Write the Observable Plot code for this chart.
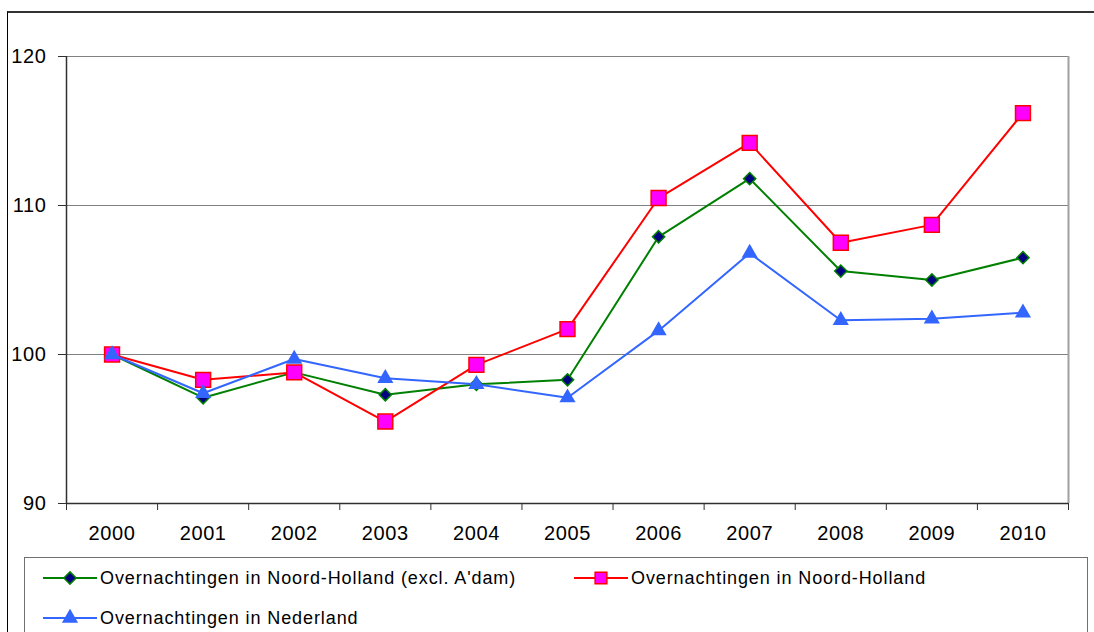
<!DOCTYPE html>
<html>
<head>
<meta charset="utf-8">
<script src="https://cdn.jsdelivr.net/npm/d3@7"></script>
<script src="https://cdn.jsdelivr.net/npm/@observablehq/plot@0.6"></script>
<style>
  html, body { margin: 0; padding: 0; background: #fff; overflow: hidden; }
  body { position: relative; width: 1094px; height: 632px; font-family: "Liberation Sans", Arial, sans-serif; }
  #frame { position: absolute; left: 7px; top: 11px; width: 1087px; height: 621px; border-left: 1px solid #000; border-top: 2px solid #333; box-sizing: border-box; }
  #chart { position: absolute; left: 0; top: 0; }
  #chart svg text { letter-spacing: 0.6px; }
  #legend { position: absolute; left: 24px; top: 557px; width: 1064px; height: 80px; border: 1px solid #707070; border-bottom: none; background: #fff; box-sizing: border-box; }
  .item { position: absolute; display: flex; align-items: center; font-size: 18px; letter-spacing: 0.9px; color: #000; white-space: nowrap; }
  .item svg { display: block; margin-right: 3px; }
</style>
</head>
<body>
<div id="frame"></div>
<div id="chart"></div>
<div id="legend"></div>
<script>
const years = [2000, 2001, 2002, 2003, 2004, 2005, 2006, 2007, 2008, 2009, 2010];
const exclAdam = [100, 97.1, 98.8, 97.3, 98.0, 98.3, 107.9, 111.8, 105.6, 105.0, 106.5];
const noordHolland = [100, 98.3, 98.8, 95.5, 99.3, 101.7, 110.5, 114.2, 107.5, 108.7, 116.2];
const nederland = [100, 97.4, 99.7, 98.4, 98.0, 97.1, 101.6, 106.8, 102.3, 102.4, 102.8];
const yTicks = [90, 100, 110, 120];
const gridValues = [100, 110, 120];
const seriesNames = [
  "Overnachtingen in Noord-Holland (excl. A'dam)",
  "Overnachtingen in Noord-Holland",
  "Overnachtingen in Nederland"
];

const rows = (vals) => years.map((yr, i) => ({year: yr, value: vals[i]}));
const dGreen = rows(exclAdam);
const dRed = rows(noordHolland);
const dBlue = rows(nederland);
const edges = [years[0] - 0.5, ...years.map(y => y + 0.5)];
const x0 = years[0] - 0.5, x1 = years[years.length - 1] + 0.5;

const styles = {
  green: {line: "#008000", fill: "#000080", stroke: "#008000", symbol: "diamond2", r: 5.5},
  red: {line: "#FF0000", fill: "#FF00FF", stroke: "#FF0000", symbol: "square", r: 8.4},
  blue: {line: "#3366FF", fill: "#3366FF", stroke: "none", symbol: "triangle", r: 6}
};

const chart = Plot.plot({
  width: 1094,
  height: 550,
  marginLeft: 66,
  marginRight: 26,
  marginTop: 56,
  marginBottom: 47,
  x: {type: "linear", domain: [x0, x1]},
  y: {domain: [90, 120]},
  style: {fontFamily: "'Liberation Sans', Arial, sans-serif", fontSize: "20px", background: "transparent", color: "#000"},
  marks: [
    Plot.ruleY(gridValues, {stroke: "#808080", strokeWidth: 1}),
    Plot.ruleX([x1], {stroke: "#a0a0a0", strokeWidth: 2}),
    Plot.axisY({ticks: yTicks, tickSize: 8, tickPadding: 12, stroke: "#303030", fill: "#000", label: null, tickFormat: d => String(d)}),
    Plot.ruleX([x0], {stroke: "#303030", strokeWidth: 1.5}),
    Plot.ruleY([90], {stroke: "#303030", strokeWidth: 1.5}),
    Plot.axisX({ticks: edges, tickSize: 7, tickFormat: () => "", stroke: "#303030", label: null}),
    Plot.axisX({ticks: years, tickSize: 0, tickPadding: 22, tickFormat: d => String(d), fill: "#000", label: null}),
    Plot.line(dGreen, {x: "year", y: "value", stroke: styles.green.line, strokeWidth: 2}),
    Plot.dot(dGreen, {x: "year", y: "value", symbol: styles.green.symbol, r: styles.green.r, fill: styles.green.fill, stroke: styles.green.stroke, strokeWidth: 1.5}),
    Plot.line(dRed, {x: "year", y: "value", stroke: styles.red.line, strokeWidth: 2}),
    Plot.dot(dRed, {x: "year", y: "value", symbol: styles.red.symbol, r: styles.red.r, fill: styles.red.fill, stroke: styles.red.stroke, strokeWidth: 1.5}),
    Plot.line(dBlue, {x: "year", y: "value", stroke: styles.blue.line, strokeWidth: 2}),
    Plot.dot(dBlue, {x: "year", y: "value", symbol: styles.blue.symbol, r: styles.blue.r, fill: styles.blue.fill, stroke: "none"})
  ]
});
document.getElementById("chart").appendChild(chart);

// Legend
const legendItems = [
  {name: seriesNames[0], s: styles.green, sym: d3.symbolDiamond2, left: 18, top: 20},
  {name: seriesNames[1], s: styles.red, sym: d3.symbolSquare, left: 549, top: 20},
  {name: seriesNames[2], s: styles.blue, sym: d3.symbolTriangle, left: 18, top: 60}
];
const legend = document.getElementById("legend");
for (const it of legendItems) {
  const div = document.createElement("div");
  div.className = "item";
  div.style.left = it.left + "px";
  div.style.top = (it.top - 12) + "px";
  div.style.height = "24px";
  const w = 54, h = 20;
  const svg = d3.create("svg").attr("width", w).attr("height", h);
  svg.append("line").attr("x1", 0).attr("x2", w).attr("y1", h / 2).attr("y2", h / 2)
    .attr("stroke", it.s.line).attr("stroke-width", 2);
  svg.append("path")
    .attr("d", d3.symbol(it.sym, Math.PI * it.s.r * it.s.r * (it.sym === d3.symbolSquare ? 0.62 : 1))())
    .attr("transform", `translate(${w / 2},${h / 2})`)
    .attr("fill", it.s.fill)
    .attr("stroke", it.s.stroke)
    .attr("stroke-width", 1.5);
  div.appendChild(svg.node());
  const span = document.createElement("span");
  span.textContent = it.name;
  div.appendChild(span);
  legend.appendChild(div);
}
</script>
</body>
</html>
